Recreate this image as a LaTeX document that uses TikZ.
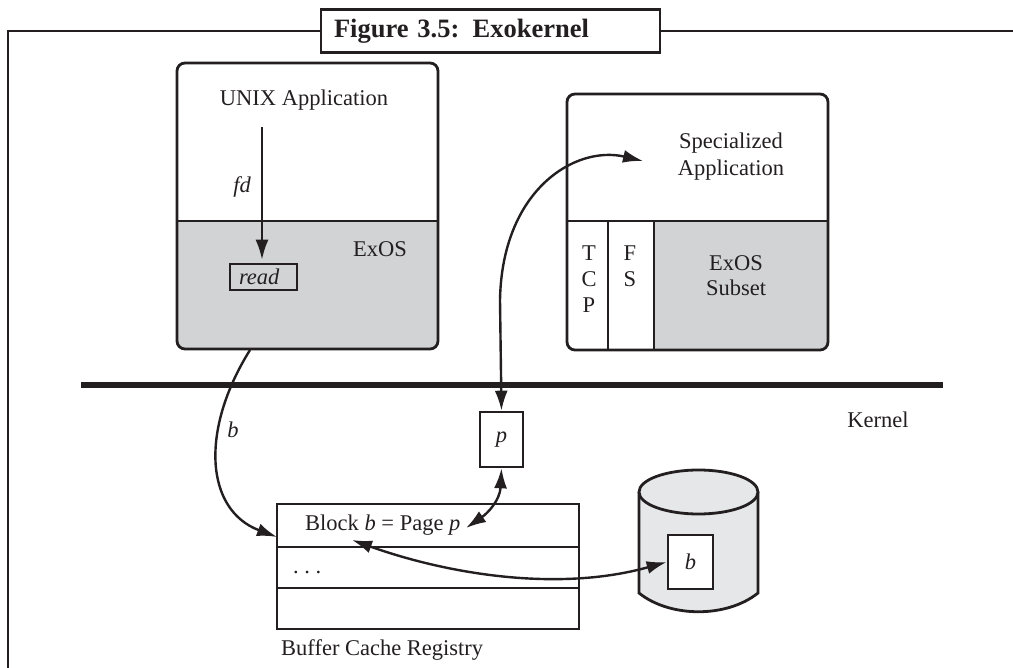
\documentclass[tikz,border=0pt]{standalone}
\usepackage{fontspec}
\setmainfont{Liberation Serif}
\usetikzlibrary{arrows.meta}
\definecolor{ink}{HTML}{231F20}
\definecolor{exgray}{HTML}{D1D3D4}
\definecolor{diskgray}{HTML}{E6E7E8}
\newcommand{\lblfont}{\fontsize{22.5}{27}\selectfont}
\tikzset{
  lbl/.style={text=ink, inner sep=0pt, font=\lblfont},
  itlbl/.style={lbl, font=\lblfont\itshape},
  outline/.style={draw=ink, line width=2.8pt},
  arrowline/.style={draw=ink, line width=2.4pt, -{Latex[length=20pt,width=13pt]}},
  twoway/.style={draw=ink, line width=2.4pt, {Latex[length=20pt,width=13pt]}-{Latex[length=20pt,width=13pt]}},
  appbox/.style={outline, rounded corners=8pt, minimum width=261pt, inner sep=0pt},
  cell/.style={draw=ink, line width=2.6pt, inner sep=0pt, text=ink},
}
\begin{document}
\begin{tikzpicture}[x=1pt,y=-1pt]
\useasboundingbox (0,0) rectangle (1013,668);

% title tab and surrounding frame
\node[cell, line width=2.8pt, fill=white, minimum width=339pt, minimum height=43pt,
      text width=313pt, inner xsep=13pt, align=left,
      font=\fontsize{26.5}{30}\selectfont\bfseries] (title) at (490.5,31) {Figure 3.5: Exokernel};
\draw[outline] (8,668) -- (8,31) -- (title.west);
\draw[outline] (title.east) -- (1013,31);

% UNIX application with its library OS
\begin{scope}
  \clip[rounded corners=8pt] (177,63) rectangle (438,349);
  \fill[exgray] (177,221) rectangle (438,349);
\end{scope}
\node[appbox, minimum height=286pt] (unixbox) at (307.5,206) {};
\coordinate (udiv) at (0,221);
\draw[outline] (unixbox.west |- udiv) -- (unixbox.east |- udiv);
\node[lbl] (unixtext) at (304,100) {UNIX Application};
\node[lbl] (exos) at (380,249) {ExOS};
\node[cell, minimum width=67pt, minimum height=26pt, text width=49pt, inner xsep=9pt,
      align=left, font=\lblfont\itshape] (readbox) at (263.5,277) {read};
\coordinate (fdtop) at (262,127);
\draw[arrowline, shorten >=3pt] (fdtop) -- (fdtop |- readbox.north);
\node[itlbl] (fd) at (242,187) {fd};

% specialized application
\begin{scope}
  \clip[rounded corners=8pt] (567,94) rectangle (828,350);
  \fill[exgray] (654,221) rectangle (828,350);
\end{scope}
\node[appbox, minimum height=256pt] (specbox) at (697.5,222) {};
\coordinate (sdiv) at (0,221);
\coordinate (tcpx) at (608,0);
\coordinate (fsx) at (654,0);
\draw[outline] (specbox.west |- sdiv) -- (specbox.east |- sdiv);
\draw[outline] (tcpx |- sdiv) -- (tcpx |- specbox.south);
\draw[outline] (fsx |- sdiv) -- (fsx |- specbox.south);
\node[lbl, align=center, font=\fontsize{22.5}{27}\selectfont] (spectext) at (731,157) {Specialized\\Application};
\node[lbl, align=center, font=\fontsize{22.5}{26}\selectfont] (tcp) at (589,279) {T\\C\\P};
\node[lbl, align=center, font=\fontsize{22.5}{26}\selectfont] (fs) at (630,266.5) {F\\S};
\node[lbl, align=center, font=\fontsize{22.5}{25}\selectfont] (subset) at (736,275.5) {ExOS\\Subset};

% kernel boundary
\coordinate (kl) at (81,385);
\coordinate (kr) at (943,385);
\draw[draw=ink, line width=5.5pt] (kl) -- (kr);
\node[lbl] (kernel) at (878,420) {Kernel};

% page
\node[cell, minimum width=43pt, minimum height=55pt, font=\lblfont\itshape] (pbox) at (501.5,439.5) {p};

% buffer cache registry
\node[cell, minimum width=302pt, minimum height=43pt] (row1) at (428,525.5) {};
\node[cell, minimum width=302pt, minimum height=41pt] (row2) at (428,567.5) {};
\node[cell, minimum width=302pt, minimum height=41pt] (row3) at (428,608.5) {};
\node[lbl, anchor=west] (blocktext) at (305,525) {Block \textit{b} = Page \textit{p}};
\node[lbl, anchor=west] (dots) at (293,572) {.\ .\ .};
\node[lbl, anchor=west] (bufname) at (281,650) {Buffer Cache Registry};

% disk
\draw[outline, fill=diskgray] (639,492) -- (639,593) .. controls (670,618) and (727,618) .. (758,593) -- (758,492);
\draw[outline, fill=diskgray] (698.5,492) ellipse [x radius=59.5pt, y radius=22pt];
\node[cell, fill=white, minimum width=45pt, minimum height=54pt, font=\lblfont\itshape] (diskb) at (690.5,562) {b};

% connectors
\coordinate (bstart) at (250,350);
\coordinate (bend) at (277,537);
\draw[arrowline] (bstart) .. controls (200,430) and (205,510) .. (bend);
\node[itlbl] (blabel) at (233,430) {b};

\coordinate (spectip) at (643,161);
\coordinate (pbend) at (500,300);
\draw[twoway] (spectip) .. controls (575,145) and (502,190) .. (pbend) -- (pbox.north);

\coordinate (pagetip) at (466,528);
\draw[twoway] (pbox.south) .. controls (500,500) and (488,513) .. (pagetip);

\coordinate (blocktip) at (352,540);
\draw[twoway] (blocktip) .. controls (450,575) and (560,592) .. (diskb.west);
\end{tikzpicture}
\end{document}
